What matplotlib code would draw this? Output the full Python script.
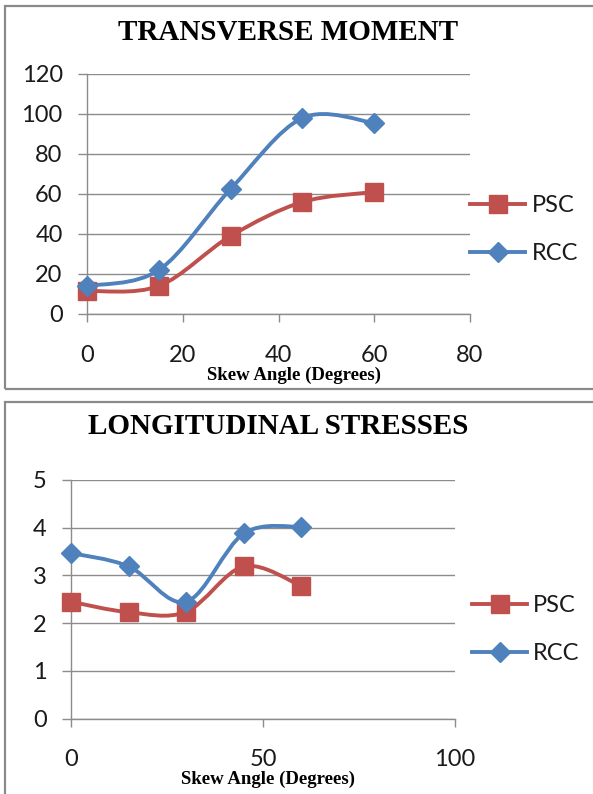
import numpy as np
import matplotlib
matplotlib.use("Agg")
import matplotlib.pyplot as plt
from matplotlib.path import Path
from matplotlib.patches import PathPatch, Rectangle
from matplotlib.lines import Line2D

# ---------- dados ----------
angulo = [0, 15, 30, 45, 60]

mom_psc = [11.5, 14, 39, 56, 61]
mom_rcc = [14, 22, 62.5, 98, 95.5]

tens_psc = [2.45, 2.23, 2.24, 3.19, 2.78]
tens_rcc = [3.47, 3.19, 2.45, 3.88, 4.02]

C_PSC = "#C0504D"; C_RCC = "#4F81BD"; C_GRID = "#8C8C8C"; C_BOX = "#8A8A8A"
F_TICK = "Lato"; F_SERIF = "Liberation Serif"

W, H = 593, 794
fig = plt.figure(figsize=(W/100, H/100), dpi=100)


def fx(px): return px / W
def fy(py): return 1 - py / H


def curva_suave(x, y):
    """Curva suavizada estilo Excel (Bezier cúbica pelos pontos)."""
    p = np.column_stack([x, y]).astype(float)
    n = len(p)
    verts, codes = [p[0]], [Path.MOVETO]
    for i in range(n - 1):
        p0, p1, p2, p3 = p[max(i-1, 0)], p[i], p[i+1], p[min(i+2, n-1)]
        verts += [p1 + (p2 - p0)/6, p2 - (p3 - p1)/6, p2]
        codes += [Path.CURVE4]*3
    return Path(verts, codes)


def grafico(rect, x, ys, xlim, xticks, ylim, yticks, leg_anchor):
    ax = fig.add_axes(rect)
    ax.set_xlim(*xlim); ax.set_ylim(*ylim)
    ax.set_xticks(xticks); ax.set_yticks(yticks)
    for s in ("top", "right"): ax.spines[s].set_visible(False)
    for s in ("left", "bottom"):
        ax.spines[s].set_color(C_GRID); ax.spines[s].set_linewidth(1.0)
    ax.grid(axis="y", color=C_GRID, lw=1.0)
    ax.set_axisbelow(True)
    ax.tick_params(axis="y", direction="out", length=6.5, width=1.0, color=C_GRID, pad=11)
    ax.tick_params(axis="x", direction="out", length=6, width=1.0, color=C_GRID, pad=16)
    for lb in ax.get_xticklabels() + ax.get_yticklabels():
        lb.set_fontfamily(F_TICK); lb.set_fontsize(17); lb.set_color("#1a1a1a")

    estilos = [("PSC", C_PSC, "s", 13), ("RCC", C_RCC, "D", 10.5)]
    handles = []
    for (nome, cor, mk, ms), y in zip(estilos, ys):
        ax.add_patch(PathPatch(curva_suave(x, y), fc="none", ec=cor, lw=2.8,
                               clip_on=False, zorder=3))
        ax.plot(x, y, ls="none", marker=mk, ms=ms, color=cor, clip_on=False, zorder=4)
        handles.append(Line2D([], [], color=cor, lw=2.8, marker=mk, ms=ms))
    leg = ax.legend(handles, ["PSC", "RCC"], loc="upper left", bbox_to_anchor=leg_anchor,
                    frameon=False, borderpad=0, borderaxespad=0, handlelength=2.35,
                    handletextpad=0.25, labelspacing=1.15,
                    prop={"family": F_TICK, "size": 17})
    for t in leg.get_texts(): t.set_color("#1a1a1a")
    return ax


# ---------- molduras ----------
fig.add_artist(Rectangle((fx(5), fy(389)), 1.2, (389 - 6)/H, transform=fig.transFigure,
                         fc="none", ec=C_BOX, lw=1.6, clip_on=False))
fig.add_artist(Rectangle((fx(5), -0.2), 1.2, fy(402) + 0.2, transform=fig.transFigure,
                         fc="none", ec=C_BOX, lw=1.6, clip_on=False))

# ---------- momento transversal ----------
grafico([fx(87), fy(314), (470 - 87)/W, (314 - 74)/H], angulo, [mom_psc, mom_rcc],
        (0, 80), [0, 20, 40, 60, 80], (0, 120), range(0, 121, 20), (1.0, 0.495))
fig.text(fx(288), fy(33), "TRANSVERSE MOMENT", ha="center", va="center",
         family=F_SERIF, weight="bold", size=21)
fig.text(fx(294), fy(375), "Skew Angle (Degrees)", ha="center", va="center",
         family=F_SERIF, weight="bold", size=13.5)

# ---------- tensões longitudinais ----------
grafico([fx(71), fy(718.7), (455 - 71)/W, (718.7 - 480)/H], angulo, [tens_psc, tens_rcc],
        (0, 100), [0, 50, 100], (0, 5), range(0, 6), (1.044, 0.517))
fig.text(fx(278), fy(427), "LONGITUDINAL STRESSES", ha="center", va="center",
         family=F_SERIF, weight="bold", size=21)
fig.text(fx(268), fy(779), "Skew Angle (Degrees)", ha="center", va="center",
         family=F_SERIF, weight="bold", size=13.5)

fig.savefig("out.png", dpi=100)
